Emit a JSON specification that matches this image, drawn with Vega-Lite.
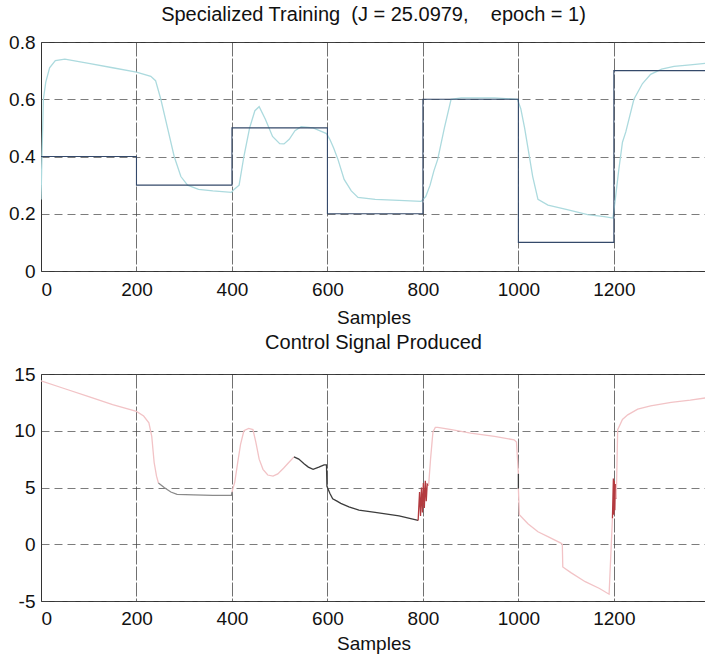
{
  "$schema": "https://vega.github.io/schema/vega-lite/v6.json",
  "padding": {"left": 0, "top": 4, "right": 0, "bottom": 0},
  "background": "white",
  "config": {
    "font": "Liberation Sans",
    "view": {"stroke": "#333333", "strokeWidth": 1},
    "axis": {
      "labelFont": "Liberation Sans",
      "labelFontSize": 19,
      "labelColor": "#111111",
      "titleFont": "Liberation Sans",
      "titleFontSize": 19,
      "titleFontWeight": "normal",
      "titleColor": "#111111",
      "ticks": false,
      "domain": false,
      "grid": true,
      "gridColor": "#444444",
      "gridOpacity": 0.7,
      "gridWidth": 1
    },
    "title": {"font": "Liberation Sans", "fontSize": 20, "fontWeight": "normal", "color": "#111111"}
  },
  "datasets": {
    "target": [
      {"x": 0, "y": 0.4}, {"x": 200, "y": 0.3}, {"x": 400, "y": 0.5}, {"x": 600, "y": 0.2},
      {"x": 800, "y": 0.6}, {"x": 1000, "y": 0.1}, {"x": 1200, "y": 0.7}, {"x": 1393, "y": 0.7}
    ],
    "output": [
      {"x": 0, "y": 0.25}, {"x": 2, "y": 0.4}, {"x": 5, "y": 0.6}, {"x": 10, "y": 0.66}, {"x": 18, "y": 0.71},
      {"x": 30, "y": 0.735}, {"x": 50, "y": 0.74}, {"x": 100, "y": 0.725}, {"x": 150, "y": 0.71}, {"x": 200, "y": 0.695},
      {"x": 230, "y": 0.68}, {"x": 240, "y": 0.665}, {"x": 251, "y": 0.6}, {"x": 265, "y": 0.5}, {"x": 279, "y": 0.4},
      {"x": 293, "y": 0.33}, {"x": 307, "y": 0.3}, {"x": 330, "y": 0.285}, {"x": 360, "y": 0.28}, {"x": 399, "y": 0.275},
      {"x": 405, "y": 0.286}, {"x": 415, "y": 0.3}, {"x": 425, "y": 0.4}, {"x": 437, "y": 0.5}, {"x": 448, "y": 0.56},
      {"x": 457, "y": 0.574}, {"x": 470, "y": 0.53}, {"x": 485, "y": 0.47}, {"x": 500, "y": 0.445}, {"x": 509, "y": 0.444},
      {"x": 520, "y": 0.46}, {"x": 532, "y": 0.49}, {"x": 545, "y": 0.504}, {"x": 570, "y": 0.5}, {"x": 598, "y": 0.48},
      {"x": 605, "y": 0.46}, {"x": 613, "y": 0.43}, {"x": 622, "y": 0.39}, {"x": 635, "y": 0.32}, {"x": 650, "y": 0.28},
      {"x": 664, "y": 0.257}, {"x": 700, "y": 0.25}, {"x": 750, "y": 0.247}, {"x": 796, "y": 0.243}, {"x": 806, "y": 0.26},
      {"x": 815, "y": 0.3}, {"x": 823, "y": 0.35}, {"x": 831, "y": 0.39}, {"x": 845, "y": 0.5}, {"x": 859, "y": 0.6},
      {"x": 880, "y": 0.605}, {"x": 950, "y": 0.605}, {"x": 998, "y": 0.6}, {"x": 1005, "y": 0.567}, {"x": 1013, "y": 0.5},
      {"x": 1020, "y": 0.43}, {"x": 1030, "y": 0.33}, {"x": 1041, "y": 0.25}, {"x": 1062, "y": 0.23}, {"x": 1100, "y": 0.215},
      {"x": 1145, "y": 0.197}, {"x": 1180, "y": 0.19}, {"x": 1198, "y": 0.185}, {"x": 1203, "y": 0.25}, {"x": 1210, "y": 0.35},
      {"x": 1218, "y": 0.45}, {"x": 1225, "y": 0.486}, {"x": 1242, "y": 0.6}, {"x": 1260, "y": 0.655}, {"x": 1277, "y": 0.687},
      {"x": 1300, "y": 0.705}, {"x": 1326, "y": 0.715}, {"x": 1360, "y": 0.72}, {"x": 1393, "y": 0.726}
    ],
    "control": [
      {"i": 1, "seg": "A", "tone": "light", "x": 0, "y": 14.4},
      {"i": 2, "seg": "A", "tone": "light", "x": 50, "y": 13.7},
      {"i": 3, "seg": "A", "tone": "light", "x": 100, "y": 13.0},
      {"i": 4, "seg": "A", "tone": "light", "x": 150, "y": 12.3},
      {"i": 5, "seg": "A", "tone": "light", "x": 200, "y": 11.7},
      {"i": 6, "seg": "A", "tone": "light", "x": 215, "y": 11.3},
      {"i": 7, "seg": "A", "tone": "light", "x": 226, "y": 10.7},
      {"i": 8, "seg": "A", "tone": "light", "x": 232, "y": 9.5},
      {"i": 9, "seg": "A", "tone": "light", "x": 237, "y": 7.2},
      {"i": 10, "seg": "A", "tone": "light", "x": 242, "y": 6.0},
      {"i": 11, "seg": "A", "tone": "light", "x": 246, "y": 5.4},
      {"i": 12, "seg": "B", "tone": "mid", "x": 246, "y": 5.4},
      {"i": 13, "seg": "B", "tone": "mid", "x": 258, "y": 5.0},
      {"i": 14, "seg": "B", "tone": "mid", "x": 272, "y": 4.6},
      {"i": 15, "seg": "B", "tone": "mid", "x": 285, "y": 4.4},
      {"i": 16, "seg": "B", "tone": "mid", "x": 320, "y": 4.35},
      {"i": 17, "seg": "B", "tone": "mid", "x": 360, "y": 4.3},
      {"i": 18, "seg": "B", "tone": "mid", "x": 399, "y": 4.3},
      {"i": 19, "seg": "B", "tone": "mid", "x": 400, "y": 4.6},
      {"i": 20, "seg": "C", "tone": "light", "x": 400, "y": 4.6},
      {"i": 21, "seg": "C", "tone": "light", "x": 406, "y": 5.5},
      {"i": 22, "seg": "C", "tone": "light", "x": 412, "y": 7.2},
      {"i": 23, "seg": "C", "tone": "light", "x": 418, "y": 8.8},
      {"i": 24, "seg": "C", "tone": "light", "x": 425, "y": 10.0},
      {"i": 25, "seg": "C", "tone": "light", "x": 435, "y": 10.2},
      {"i": 26, "seg": "C", "tone": "light", "x": 444, "y": 10.1},
      {"i": 27, "seg": "C", "tone": "light", "x": 450, "y": 9.0},
      {"i": 28, "seg": "C", "tone": "light", "x": 457, "y": 7.5},
      {"i": 29, "seg": "C", "tone": "light", "x": 465, "y": 6.6},
      {"i": 30, "seg": "C", "tone": "light", "x": 475, "y": 6.1},
      {"i": 31, "seg": "C", "tone": "light", "x": 486, "y": 6.0},
      {"i": 32, "seg": "C", "tone": "light", "x": 496, "y": 6.2},
      {"i": 33, "seg": "C", "tone": "light", "x": 508, "y": 6.7},
      {"i": 34, "seg": "C", "tone": "light", "x": 519, "y": 7.2},
      {"i": 35, "seg": "C", "tone": "light", "x": 530, "y": 7.7},
      {"i": 36, "seg": "D", "tone": "dark", "x": 530, "y": 7.7},
      {"i": 37, "seg": "D", "tone": "dark", "x": 540, "y": 7.5},
      {"i": 38, "seg": "D", "tone": "dark", "x": 551, "y": 7.1},
      {"i": 39, "seg": "D", "tone": "dark", "x": 560, "y": 6.8},
      {"i": 40, "seg": "D", "tone": "dark", "x": 570, "y": 6.6},
      {"i": 41, "seg": "D", "tone": "dark", "x": 582, "y": 6.8},
      {"i": 42, "seg": "D", "tone": "dark", "x": 593, "y": 7.0},
      {"i": 43, "seg": "D", "tone": "dark", "x": 598, "y": 7.0},
      {"i": 44, "seg": "D", "tone": "dark", "x": 599, "y": 5.1},
      {"i": 45, "seg": "D", "tone": "dark", "x": 605, "y": 4.5},
      {"i": 46, "seg": "D", "tone": "dark", "x": 611, "y": 4.0},
      {"i": 47, "seg": "D", "tone": "dark", "x": 620, "y": 3.8},
      {"i": 48, "seg": "D", "tone": "dark", "x": 628, "y": 3.6},
      {"i": 49, "seg": "D", "tone": "dark", "x": 645, "y": 3.3},
      {"i": 50, "seg": "D", "tone": "dark", "x": 666, "y": 3.0},
      {"i": 51, "seg": "D", "tone": "dark", "x": 700, "y": 2.8},
      {"i": 52, "seg": "D", "tone": "dark", "x": 750, "y": 2.5},
      {"i": 53, "seg": "D", "tone": "dark", "x": 790, "y": 2.1},
      {"i": 54, "seg": "E", "tone": "red", "x": 790, "y": 2.1},
      {"i": 55, "seg": "E", "tone": "red", "x": 793, "y": 4.6},
      {"i": 56, "seg": "E", "tone": "red", "x": 795, "y": 2.5},
      {"i": 57, "seg": "E", "tone": "red", "x": 797, "y": 5.0},
      {"i": 58, "seg": "E", "tone": "red", "x": 799, "y": 2.8},
      {"i": 59, "seg": "E", "tone": "red", "x": 801, "y": 5.4},
      {"i": 60, "seg": "E", "tone": "red", "x": 803, "y": 3.2},
      {"i": 61, "seg": "E", "tone": "red", "x": 805, "y": 5.6},
      {"i": 62, "seg": "E", "tone": "red", "x": 807, "y": 3.8},
      {"i": 63, "seg": "E", "tone": "red", "x": 809, "y": 5.3},
      {"i": 64, "seg": "E", "tone": "red", "x": 812, "y": 5.2},
      {"i": 65, "seg": "F", "tone": "light", "x": 812, "y": 5.2},
      {"i": 66, "seg": "F", "tone": "light", "x": 816, "y": 7.5},
      {"i": 67, "seg": "F", "tone": "light", "x": 821, "y": 9.9},
      {"i": 68, "seg": "F", "tone": "light", "x": 826, "y": 10.3},
      {"i": 69, "seg": "F", "tone": "light", "x": 831, "y": 10.3},
      {"i": 70, "seg": "F", "tone": "light", "x": 860, "y": 10.1},
      {"i": 71, "seg": "F", "tone": "light", "x": 900, "y": 9.8},
      {"i": 72, "seg": "F", "tone": "light", "x": 950, "y": 9.5},
      {"i": 73, "seg": "F", "tone": "light", "x": 991, "y": 9.2},
      {"i": 74, "seg": "F", "tone": "light", "x": 996, "y": 9.0},
      {"i": 75, "seg": "F", "tone": "light", "x": 1000, "y": 6.2},
      {"i": 76, "seg": "G", "tone": "dark", "x": 1000, "y": 6.2},
      {"i": 77, "seg": "G", "tone": "dark", "x": 1000, "y": 4.9},
      {"i": 78, "seg": "H", "tone": "light", "x": 1000, "y": 4.9},
      {"i": 79, "seg": "H", "tone": "light", "x": 1002, "y": 2.6},
      {"i": 80, "seg": "H", "tone": "light", "x": 1020, "y": 1.8},
      {"i": 81, "seg": "H", "tone": "light", "x": 1041, "y": 1.1},
      {"i": 82, "seg": "H", "tone": "light", "x": 1065, "y": 0.6},
      {"i": 83, "seg": "H", "tone": "light", "x": 1089, "y": 0.1},
      {"i": 84, "seg": "H", "tone": "light", "x": 1092, "y": 0.0},
      {"i": 85, "seg": "H", "tone": "light", "x": 1093, "y": -2.0},
      {"i": 86, "seg": "H", "tone": "light", "x": 1110, "y": -2.5},
      {"i": 87, "seg": "H", "tone": "light", "x": 1140, "y": -3.3},
      {"i": 88, "seg": "H", "tone": "light", "x": 1170, "y": -3.9},
      {"i": 89, "seg": "H", "tone": "light", "x": 1190, "y": -4.4},
      {"i": 90, "seg": "H", "tone": "light", "x": 1197, "y": 2.3},
      {"i": 91, "seg": "I", "tone": "red", "x": 1197, "y": 2.3},
      {"i": 92, "seg": "I", "tone": "red", "x": 1199, "y": 5.8},
      {"i": 93, "seg": "I", "tone": "red", "x": 1200, "y": 2.6},
      {"i": 94, "seg": "I", "tone": "red", "x": 1201, "y": 5.6},
      {"i": 95, "seg": "I", "tone": "red", "x": 1202, "y": 3.0},
      {"i": 96, "seg": "I", "tone": "red", "x": 1203, "y": 5.3},
      {"i": 97, "seg": "I", "tone": "red", "x": 1205, "y": 4.0},
      {"i": 98, "seg": "J", "tone": "light", "x": 1205, "y": 4.0},
      {"i": 99, "seg": "J", "tone": "light", "x": 1208, "y": 10.1},
      {"i": 100, "seg": "J", "tone": "light", "x": 1218, "y": 11.0},
      {"i": 101, "seg": "J", "tone": "light", "x": 1229, "y": 11.4},
      {"i": 102, "seg": "J", "tone": "light", "x": 1250, "y": 11.9},
      {"i": 103, "seg": "J", "tone": "light", "x": 1277, "y": 12.2},
      {"i": 104, "seg": "J", "tone": "light", "x": 1320, "y": 12.5},
      {"i": 105, "seg": "J", "tone": "light", "x": 1360, "y": 12.7},
      {"i": 106, "seg": "J", "tone": "light", "x": 1393, "y": 12.9}
    ]
  },
  "vconcat": [
    {
      "width": 665,
      "height": 229,
      "title": {"text": "Specialized Training\u00a0\u00a0(J = 25.0979,\u00a0\u00a0\u00a0\u00a0epoch = 1)", "offset": 8},
      "layer": [
        {
          "data": {"name": "output"},
          "mark": {"type": "line", "color": "#acdade", "strokeWidth": 1.3, "clip": true},
          "encoding": {
            "x": {"field": "x", "type": "quantitative", "scale": {"domain": [0, 1393], "nice": false}, "axis": {"values": [0, 200, 400, 600, 800, 1000, 1200], "format": "d", "title": "Samples", "labelPadding": 9, "titlePadding": 9, "gridDash": [14, 2], "gridColor": "#333333"}},
            "y": {"field": "y", "type": "quantitative", "scale": {"domain": [0, 0.8], "nice": false}, "axis": {"values": [0, 0.2, 0.4, 0.6, 0.8], "format": "~g", "title": null, "labelPadding": 6, "minExtent": 40, "maxExtent": 40, "gridDash": [8, 5]}}
          }
        },
        {
          "data": {"name": "target"},
          "mark": {"type": "line", "color": "#34496a", "strokeWidth": 1.1, "interpolate": "step-after", "clip": true},
          "encoding": {
            "x": {"field": "x", "type": "quantitative"},
            "y": {"field": "y", "type": "quantitative"}
          }
        }
      ]
    },
    {
      "width": 665,
      "height": 227,
      "title": {"text": "Control Signal Produced", "offset": 12},
      "data": {"name": "control"},
      "mark": {"type": "line", "strokeWidth": 1.3, "clip": true},
      "encoding": {
        "x": {"field": "x", "type": "quantitative", "scale": {"domain": [0, 1393], "nice": false}, "axis": {"values": [0, 200, 400, 600, 800, 1000, 1200], "format": "d", "title": "Samples", "labelPadding": 8, "titlePadding": 6, "gridDash": [14, 2], "gridColor": "#333333"}},
        "y": {"field": "y", "type": "quantitative", "scale": {"domain": [-5, 15], "nice": false}, "axis": {"values": [-5, 0, 5, 10, 15], "labelExpr": "'' + datum.value", "title": null, "labelPadding": 6, "minExtent": 40, "maxExtent": 40, "gridDash": [8, 5]}},
        "detail": {"field": "seg"},
        "order": {"field": "i"},
        "color": {"field": "tone", "type": "nominal", "legend": null, "scale": {"domain": ["light", "mid", "dark", "red"], "range": ["#f2c3c6", "#8a8a8a", "#3c3c3c", "#b33a3f"]}}
      }
    }
  ],
  "spacing": 4
}
